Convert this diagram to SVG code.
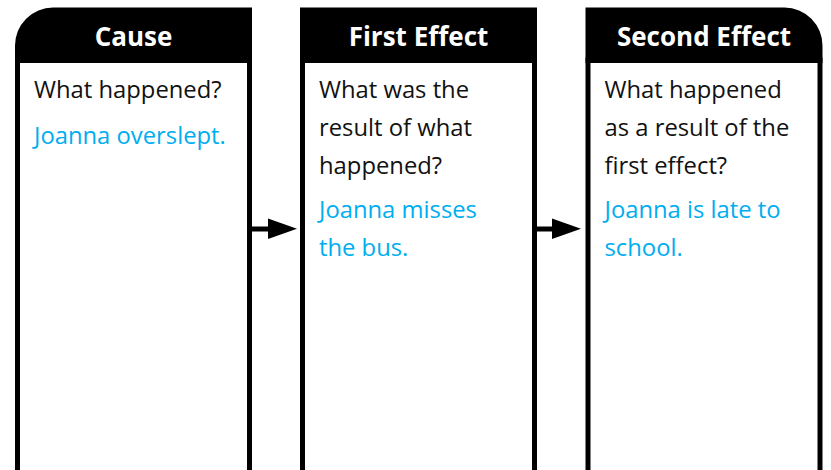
<svg xmlns="http://www.w3.org/2000/svg" width="831" height="470" viewBox="0 0 831 470">
  <defs>
    <style>
      .body { fill: #ffffff; stroke: #000000; stroke-width: 5; }
      .head { fill: #000000; }
      .title { font-family: "Open Sans", "Liberation Sans", sans-serif; font-weight: 700; font-size: 26px; fill: #ffffff; text-anchor: middle; }
      .q { font-family: "Open Sans", "Liberation Sans", sans-serif; font-size: 23.8px; fill: #111111; }
      .a { font-family: "Open Sans", "Liberation Sans", sans-serif; font-size: 23.8px; fill: #00aeef; }
      .shaft { stroke: #000000; stroke-width: 5; fill: none; }
      .tip { fill: #000000; }
    </style>
  </defs>
  <rect width="831" height="470" fill="#ffffff"/>

  <g id="cause">
    <rect class="body" x="17.5" y="60" width="232" height="420"/>
    <path class="head" d="M15,63 V45.5 A38,38 0 0 1 53,7.5 H252 V63 Z"/>
    <text class="title" x="133.5" y="46">Cause</text>
    <text class="q" x="34" y="98">What happened?</text>
    <text class="a" x="34" y="144">Joanna overslept.</text>
  </g>

  <g id="first-effect">
    <rect class="body" x="302.5" y="60" width="232" height="420"/>
    <rect class="head" x="300" y="7.5" width="237" height="55.5"/>
    <text class="title" x="418.5" y="46">First Effect</text>
    <text class="q" x="319" y="98">What was the</text>
    <text class="q" x="319" y="136">result of what</text>
    <text class="q" x="319" y="174">happened?</text>
    <text class="a" x="319" y="218">Joanna misses</text>
    <text class="a" x="319" y="256">the bus.</text>
  </g>

  <g id="second-effect">
    <rect class="body" x="588" y="60" width="232" height="420"/>
    <path class="head" d="M585.5,63 V7.5 H784.5 A38,38 0 0 1 822.5,45.5 V63 Z"/>
    <text class="title" x="704" y="46">Second Effect</text>
    <text class="q" x="604.5" y="98">What happened</text>
    <text class="q" x="604.5" y="136">as a result of the</text>
    <text class="q" x="604.5" y="174">first effect?</text>
    <text class="a" x="604.5" y="218">Joanna is late to</text>
    <text class="a" x="604.5" y="256">school.</text>
  </g>

  <g id="connectors">
    <line class="shaft" x1="252" y1="229" x2="270" y2="229"/>
    <polygon class="tip" points="268,218.5 268,239 297,228.8"/>
    <line class="shaft" x1="537" y1="229" x2="554" y2="229"/>
    <polygon class="tip" points="552,218.5 552,239 581,228.8"/>
  </g>
</svg>
